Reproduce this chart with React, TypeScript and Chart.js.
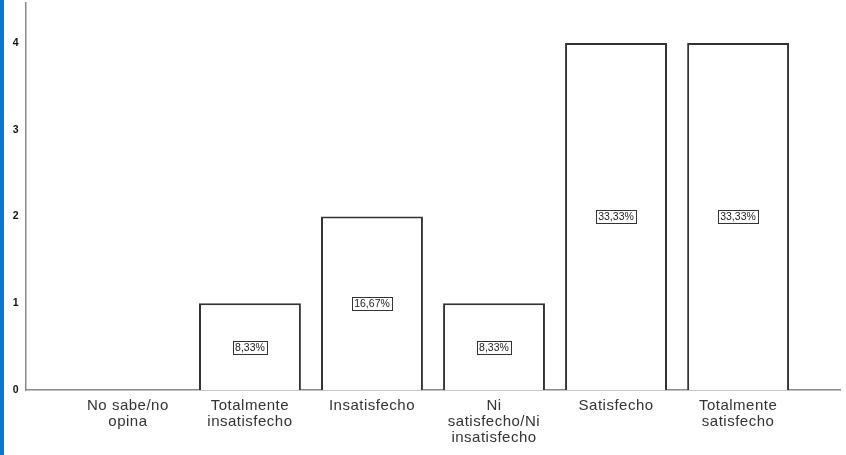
import React, { useEffect, useRef } from "react";
import { Chart, registerables } from "chart.js";

Chart.register(...registerables);

const categories: string[] = [
  "No sabe/no opina",
  "Totalmente insatisfecho",
  "Insatisfecho",
  "Ni satisfecho/Ni insatisfecho",
  "Satisfecho",
  "Totalmente satisfecho",
];
const tickLabels: string[][] = [
  ["No sabe/no", "opina"],
  ["Totalmente", "insatisfecho"],
  ["Insatisfecho"],
  ["Ni", "satisfecho/Ni", "insatisfecho"],
  ["Satisfecho"],
  ["Totalmente", "satisfecho"],
];
const counts: number[] = [0, 1, 2, 1, 4, 4];
const yTicks: number[] = [0, 1, 2, 3, 4];

const FONT = "'Liberation Sans', Arial, sans-serif";

const spacingPlugin = {
  id: "letterSpacing",
  beforeLayout(chart: any) {
    chart.ctx.letterSpacing = "0.5px";
  },
  beforeDraw(chart: any) {
    chart.ctx.letterSpacing = "0.5px";
  },
};

const labelPlugin = {
  id: "boxLabels",
  afterDatasetsDraw(chart: any) {
    const ctx = chart.ctx;
    const meta = chart.getDatasetMeta(0);
    const yScale = chart.scales.y;
    const total = counts.reduce((a, b) => a + b, 0);
    ctx.save();
    ctx.letterSpacing = "0px";
    ctx.font = `10.5px ${FONT}`;
    ctx.textAlign = "center";
    ctx.textBaseline = "middle";
    meta.data.forEach((bar: any, i: number) => {
      const v = counts[i];
      if (!v) return;
      const txt = ((v / total) * 100).toFixed(2).replace(".", ",") + "%";
      const cx = Math.round(bar.x);
      const cy = Math.round(yScale.getPixelForValue(v / 2));
      const w = Math.ceil(ctx.measureText(txt).width) + 4;
      const h = 13;
      ctx.fillStyle = "#ffffff";
      ctx.fillRect(cx - w / 2, cy - h / 2, w, h);
      ctx.strokeStyle = "#333333";
      ctx.lineWidth = 1;
      ctx.strokeRect(Math.round(cx - w / 2) + 0.5, Math.round(cy - h / 2) + 0.5, w, h);
      ctx.fillStyle = "#222222";
      ctx.fillText(txt, cx, cy + 1);
    });
    ctx.restore();
  },
};

export default function App() {
  const ref = useRef<HTMLCanvasElement | null>(null);
  useEffect(() => {
    if (!ref.current) return;
    const chart = new Chart(ref.current, {
      type: "bar",
      data: {
        datasets: [
          {
            label: "Frecuencia",
            data: counts.map((v, i) => ({ x: i + 1, y: v })),
            backgroundColor: "#ffffff",
            borderColor: "#333333",
            borderWidth: 2,
            borderSkipped: "start",
            categoryPercentage: 1,
            barPercentage: 0.835,
          } as any,
        ],
      },
      options: {
        animation: false,
        responsive: false,
        devicePixelRatio: 1,
        layout: { padding: { top: 3, right: 6, left: 0, bottom: 0 } },
        plugins: { legend: { display: false }, tooltip: { enabled: false }, title: { display: false } },
        scales: {
          x: {
            type: "linear",
            offset: false,
            min: 0.165,
            max: 6.835,
            grid: { display: false, drawTicks: false, offset: false },
            border: { display: true, color: "#8a8a8a", width: 1.5 },
            afterBuildTicks: (scale: any) => {
              scale.ticks = categories.map((_, i) => ({ value: i + 1 }));
            },
            afterFit: (scale: any) => {
              scale.height = 65;
              scale.paddingLeft = 0;
              scale.paddingRight = 0;
            },
            ticks: {
              autoSkip: false,
              maxRotation: 0,
              minRotation: 0,
              padding: 8,
              color: "#333333",
              font: { family: FONT, size: 15, lineHeight: 1.05 },
              callback: (v: any) => tickLabels[Math.round(Number(v)) - 1] ?? "",
            },
          },
          y: {
            min: 0,
            max: 4.46,
            grid: { display: false, drawTicks: false },
            border: { display: true, color: "#8a8a8a", width: 1.5 },
            afterBuildTicks: (scale: any) => {
              scale.ticks = yTicks.map((v) => ({ value: v }));
            },
            afterFit: (scale: any) => {
              scale.width = 26;
              scale.paddingTop = 0;
              scale.paddingBottom = 0;
            },
            ticks: {
              padding: 7,
              color: "#111111",
              font: { family: FONT, size: 10.5, weight: "bold" },
              callback: (v: any) => String(v),
            },
          },
        },
      } as any,
      plugins: [spacingPlugin, labelPlugin],
    });
    return () => chart.destroy();
  }, []);
  return (
    <div
      style={{
        position: "fixed",
        left: 0,
        top: 0,
        width: 846,
        height: 455,
        background: "#ffffff",
        overflow: "hidden",
      }}
    >
      <canvas ref={ref} width={846} height={455} style={{ position: "absolute", left: 0, top: 0, width: 846, height: 455 }} />
      <div style={{ position: "absolute", left: 0, top: 0, width: 4, height: 455, background: "#0a78cc" }} />
    </div>
  );
}
